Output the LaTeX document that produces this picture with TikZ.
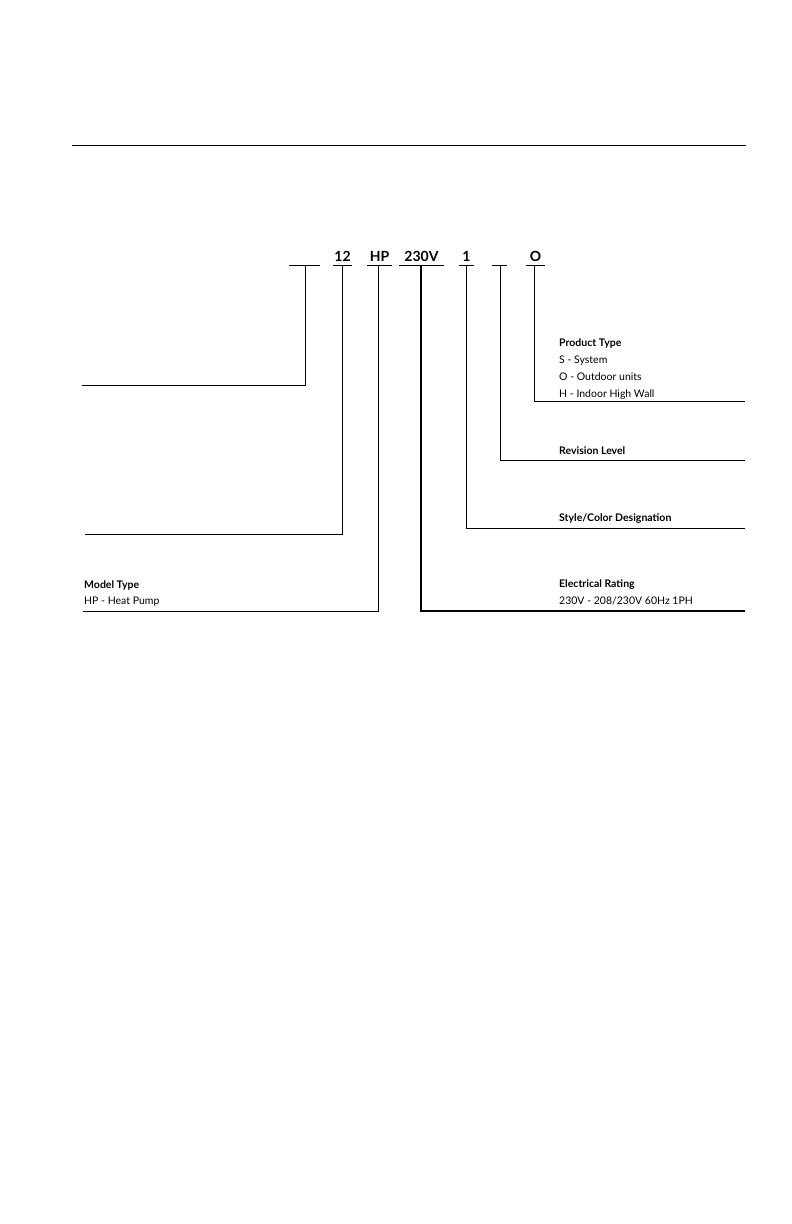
\documentclass[tikz,border=0pt]{standalone}
\usepackage{fontspec}
\setmainfont{Lato}
\begin{document}
\begin{tikzpicture}[x=1pt,y=-1pt,
  ln/.style={line width=0.8pt},
  code/.style={anchor=base,font=\fontsize{14}{16}\selectfont\bfseries},
  lab/.style={anchor=base west,font=\fontsize{10.5}{12}\selectfont,inner sep=0pt},
  head/.style={anchor=base west,font=\fontsize{10.5}{12}\selectfont\bfseries,inner sep=0pt}]
\useasboundingbox (0,0) rectangle (792,1224);
\draw[ln] (72,145) -- (746,145);
% code characters
\node[code] (c12) at (342.5,261) {12};
\node[code] (cHP) at (379.5,261) {HP};
\node[code] (cV) at (421.5,261) {230V};
\node[code] (c1) at (466.5,261) {1};
\node[code] (cO) at (535.5,261) {O};
% underlines
\draw[ln] (289,265) -- (320,265);
\draw[ln] (333,265) -- (352,265);
\draw[ln] (367,265) -- (392,265);
\draw[ln] (399,265) -- (444,265);
\draw[ln] (459,265) -- (474,265);
\draw[ln] (492,265) -- (507,265);
\draw[ln] (526,265) -- (545,265);
% leaders
\draw[ln] (305,265) -- (305,385) -- (82,385);
\draw[ln] (342,265) -- (342,534) -- (85,534);
\draw[ln] (378,265) -- (378,611) -- (83,611);
\draw[line width=1.6pt] (421,265) -- (421,611) -- (745,611);
\draw[ln] (466,265) -- (466,528) -- (745,528);
\draw[ln] (500,265) -- (500,460) -- (745,460);
\draw[ln] (534,265) -- (534,401) -- (745,401);
% labels
\node[head] (pt) at (559,346) {Product Type};
\node[lab] (pt1) at (559,363) {S - System};
\node[lab] (pt2) at (559,380) {O - Outdoor units};
\node[lab] (pt3) at (559,397) {H - Indoor High Wall};
\node[head] (rl) at (559,454) {Revision Level};
\node[head] (sc) at (559,521) {Style/Color Designation};
\node[head] (er) at (559,587) {Electrical Rating};
\node[lab] (er1) at (559,604) {230V - 208/230V 60Hz 1PH};
\node[head] (mt) at (84,588) {Model Type};
\node[lab] (mt1) at (84,604) {HP - Heat Pump};
\end{tikzpicture}
\end{document}
